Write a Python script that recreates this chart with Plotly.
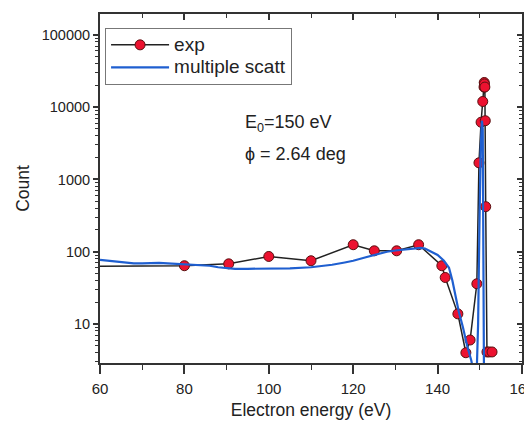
import plotly.graph_objects as go

# Experimental data (exp)
exp_x = [40, 80, 90.5, 100, 110, 120, 125, 130.3, 135.5, 141.0, 141.8, 144.8, 146.7, 147.7,
         149.3, 149.8, 150.3, 150.7, 151.0, 151.05, 151.1, 151.2, 151.3, 151.4, 151.7, 152.2, 152.9]
exp_y = [62, 64, 68, 86, 75, 125, 103, 103, 125, 64, 44, 13.8, 4.0, 6.0,
         36, 1700, 6200, 12000, 19000, 22000, 21000, 19000, 6500, 420, 4.1, 4.1, 4.1]

# Multiple scattering calculation
ms_x = [60, 62, 64, 66, 68, 70, 72, 74, 76, 78, 80, 82, 84, 86, 88, 90, 92, 95, 100, 105, 110,
        115, 118, 120, 123, 126, 128, 130, 132, 134, 136, 137, 138, 140, 141.5, 142.7, 143.5,
        144.1, 145, 146, 147, 148, 148.6, 149.3, 149.6, 149.9, 150.2, 150.5, 150.7, 150.8, 150.9, 151.0]
ms_y = [77, 75, 72, 70, 69, 69, 70, 70, 69, 68, 67, 67, 66, 64, 61, 59, 58, 58, 58, 59, 61,
        66, 71, 75, 84, 94, 100, 104, 107, 111, 113, 111, 103, 90, 75, 60, 40,
        27, 15, 9, 5, 3.1, 2.0, 2.5, 10, 200, 2500, 6500, 5000, 300, 10, 1.5]

series_names = ["exp", "multiple scatt"]

x_range = [60, 160]
y_log_range = [0.46, 5.29]
x_ticks = [60, 80, 100, 120, 140, 160]
y_ticks = [10, 100, 1000, 10000, 100000]
y_ticktext = ["10", "100", "1000", "10000", "100000"]

FONT = "Liberation Sans, Arial, sans-serif"
AX = "#333333"


def legend_label(s):
    return "<span style='font-size:19px'>" + s + "</span>"


fig = go.Figure()
fig.add_trace(go.Scatter(
    x=exp_x, y=exp_y, mode="lines+markers", name=legend_label(series_names[0]),
    line=dict(color="#222222", width=1.5),
    marker=dict(size=10, color="#ec1230", line=dict(color="#5a1010", width=1)),
))
fig.add_trace(go.Scatter(
    x=ms_x, y=ms_y, mode="lines", name=legend_label(series_names[1]),
    line=dict(color="#1f5fd0", width=2.2),
))
# empty trace to host top/right tick axes
fig.add_trace(go.Scatter(x=[], y=[], xaxis="x2", yaxis="y2", showlegend=False))

# page body has an 8px default margin, so the figure is sized to fill the rest of the window
fig.update_layout(
    width=524, height=415,
    margin=dict(l=92, r=10, t=6, b=60, autoexpand=False),
    paper_bgcolor="white", plot_bgcolor="white",
    font=dict(family=FONT, color="#222222", size=15),
    showlegend=True,
    legend=dict(
        x=0.012, y=0.961, xanchor="left", yanchor="top",
        bgcolor="rgba(255,255,255,0)", bordercolor="#777777", borderwidth=1,
        font=dict(size=15, family=FONT), itemwidth=58, tracegroupgap=0,
    ),
    xaxis=dict(
        range=x_range, tickvals=x_ticks, ticks="outside", ticklen=9, tickwidth=1.5,
        tickcolor=AX, showline=True, linecolor=AX, linewidth=2, showgrid=False, zeroline=False,
        minor=dict(ticks="outside", ticklen=5, tickwidth=1.2, tickcolor=AX, dtick=10, showgrid=False),
        tickfont=dict(size=15), ticklabeloverflow="allow", automargin=False, ticklabelstandoff=2,
        title=dict(text="Electron energy (eV)", font=dict(size=17.5), standoff=8),
    ),
    yaxis=dict(
        type="log", range=y_log_range, tickvals=y_ticks, ticktext=y_ticktext,
        ticks="outside", ticklen=5, tickwidth=1.5, tickcolor=AX,
        showline=True, linecolor=AX, linewidth=2, showgrid=False, zeroline=False,
        minor=dict(ticks="outside", ticklen=3, tickwidth=1, tickcolor=AX, dtick="D1", showgrid=False),
        tickfont=dict(size=14.5), automargin=False,
        title=dict(text="Count", font=dict(size=17.5), standoff=8),
    ),
    xaxis2=dict(
        overlaying="x", side="top", range=x_range, tickvals=x_ticks, ticks="inside",
        ticklen=6, tickwidth=1.5, tickcolor=AX, showticklabels=False, automargin=False,
        showline=True, linecolor=AX, linewidth=2, showgrid=False, zeroline=False,
        minor=dict(ticks="inside", ticklen=4, tickwidth=1.2, tickcolor=AX, dtick=10, showgrid=False),
    ),
    yaxis2=dict(
        overlaying="y", side="right", type="log", range=y_log_range, tickvals=y_ticks,
        ticks="inside", ticklen=5, tickwidth=1.5, tickcolor=AX, showticklabels=False, automargin=False,
        showline=True, linecolor=AX, linewidth=2, showgrid=False, zeroline=False,
        minor=dict(ticks="inside", ticklen=3, tickwidth=1, tickcolor=AX, dtick="D1", showgrid=False),
    ),
    annotations=[
        dict(x=0.338, y=0.685, xref="paper", yref="paper", xanchor="left", yanchor="middle",
             text="E<sub>0</sub>=150 eV", showarrow=False, font=dict(size=18, family=FONT, color="#222222")),
        dict(x=0.338, y=0.598, xref="paper", yref="paper", xanchor="left", yanchor="middle",
             text="\u03d5 = 2.64 deg", showarrow=False, font=dict(size=18, family=FONT, color="#222222")),
    ],
)

fig.write_html("out.html")
